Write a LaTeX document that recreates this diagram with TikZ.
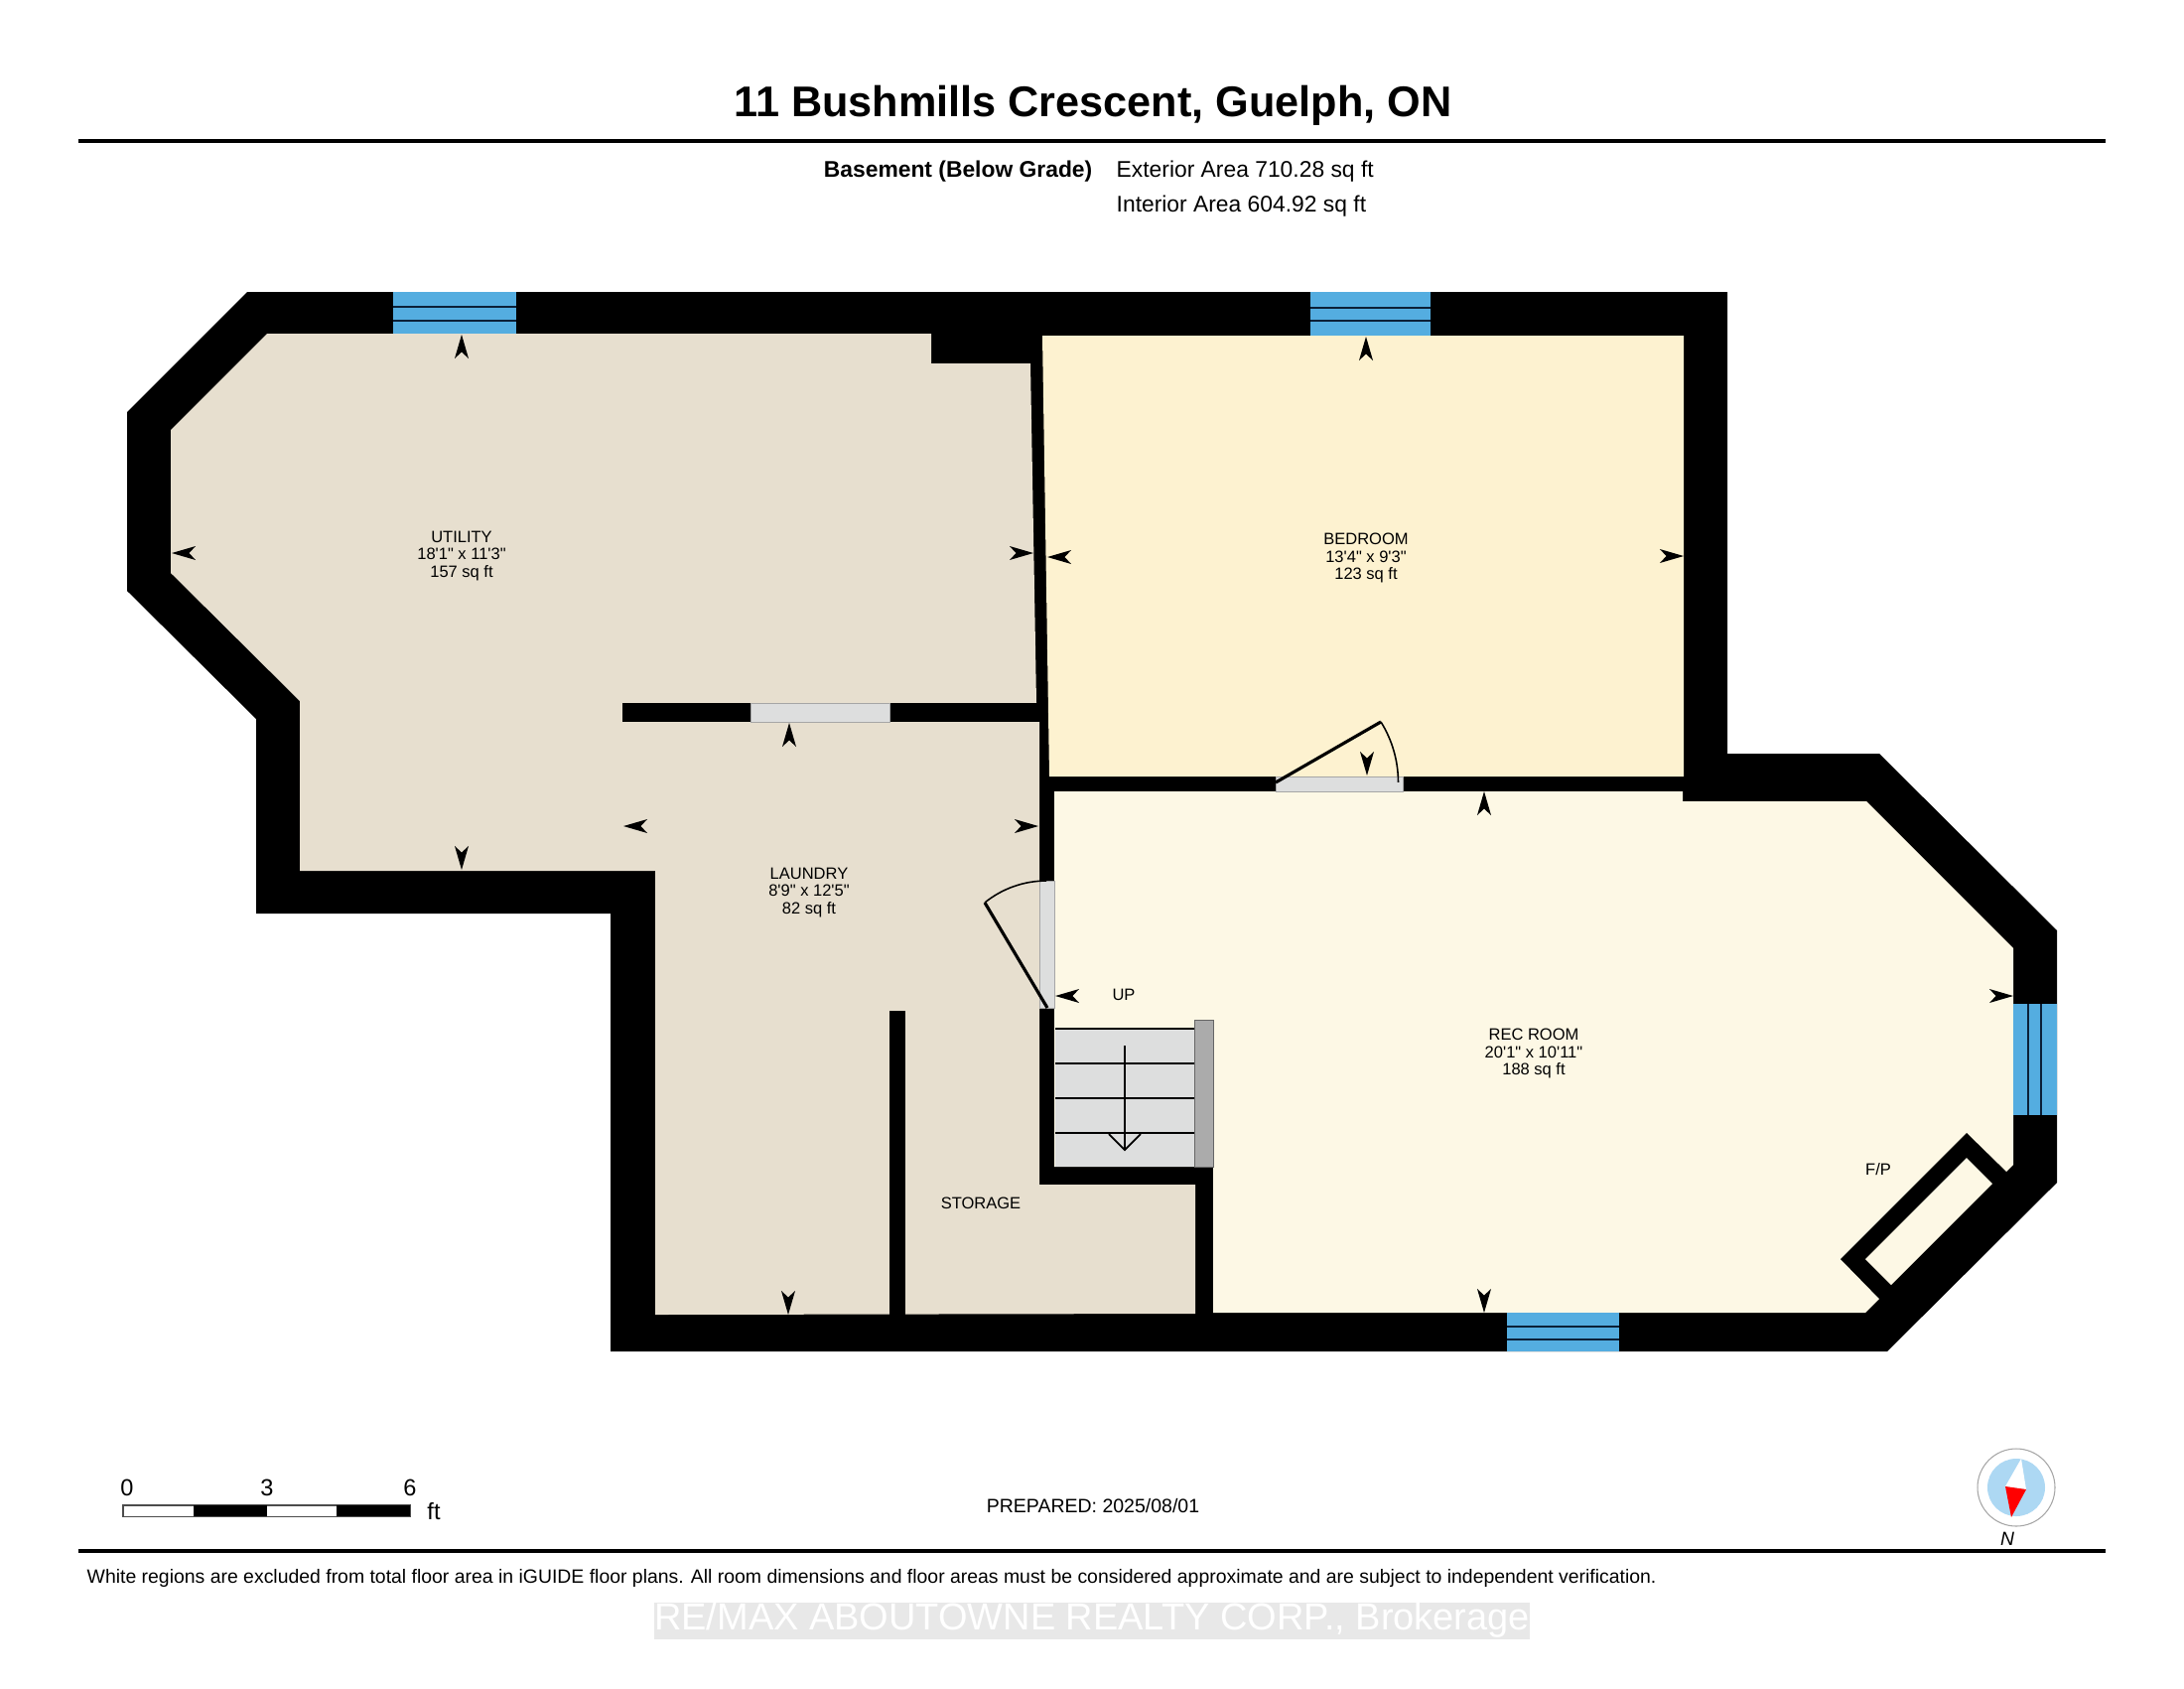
\documentclass[tikz,border=0pt]{standalone}
\usepackage{fontspec}
\newfontfamily\planfont{Liberation Sans}
\definecolor{UtilityTone}{HTML}{E7DFCF}
\definecolor{BedroomTone}{HTML}{FDF2D0}
\definecolor{RecTone}{HTML}{FDF8E5}
\definecolor{GlassBlue}{HTML}{54ADE0}
\definecolor{GlassLine}{HTML}{0B2038}
\definecolor{DoorGrey}{HTML}{DDDEDE}
\definecolor{RailGrey}{HTML}{ABABAB}
\definecolor{CompassBlue}{HTML}{ADD8F3}
\tikzset{
  roomlabel/.style={font=\planfont\fontsize{4.7}{5.1}\selectfont, align=center, inner sep=0pt},
  notelabel/.style={font=\planfont\fontsize{5.55}{6}\selectfont, inner sep=0pt},
  headlabel/.style={font=\planfont\fontsize{6.5}{7}\selectfont, inner sep=0pt},
  scalelabel/.style={font=\planfont\fontsize{6.7}{7}\selectfont, inner sep=0pt},
  doorfill/.style={fill=DoorGrey, draw=gray!70, line width=0.2pt},
  leaf/.style={line width=0.9pt},
  swing/.style={line width=0.45pt},
  tread/.style={line width=0.5pt},
  glassline/.style={GlassLine, line width=0.4pt},
  dimtip/.pic={\fill (0,0) -- (-2.4,-0.7) -- (-1.75,0) -- (-2.4,0.7) -- cycle;}
}
\begin{document}
\begin{tikzpicture}[x=1mm, y=-1mm]
  \useasboundingbox (0,0) rectangle (220,170);
  \fill[white] (0,0) rectangle (220,170);
  % Header
  \node[font=\planfont\bfseries\fontsize{12.3}{14}\selectfont, inner sep=0pt] (title) at (110.1,10.6) {11 Bushmills Crescent, Guelph, ON};
  \draw[line width=1.1pt] (7.9,14.2) -- (212.1,14.2);
  \node[headlabel, font=\planfont\bfseries\fontsize{6.5}{7}\selectfont, anchor=east] (level) at (110.1,17.3) {Basement (Below Grade)};
  \node[headlabel, anchor=west] (exterior) at (112.4,17.3) {Exterior Area 710.28 sq ft};
  \node[headlabel, anchor=west] (interior) at (112.4,20.8) {Interior Area 604.92 sq ft};
  % Outer walls
  \fill (24.9,29.4) -- (174,29.4) -- (174,75.9) -- (189.3,75.9) -- (207.2,93.7) -- (207.2,119.1) -- (190.1,136.1) -- (61.5,136.1) -- (61.5,92) -- (25.8,92) -- (25.8,72.4) -- (12.8,59.5) -- (12.8,41.5) -- cycle;
  % Room floors
  \fill[UtilityTone] (26.9,33.6) -- (93.8,33.6) -- (93.8,36.6) -- (103.8,36.6) -- (104.4,70.8) -- (104.7,72.7) -- (104.7,119.3) -- (120.4,119.3) -- (120.4,132.3) -- (66,132.4) -- (66,87.7) -- (30.2,87.7) -- (30.2,70.6) -- (17.2,57.7) -- (17.2,43.3) -- cycle;
  \fill[BedroomTone] (105,33.8) -- (169.6,33.8) -- (169.6,78.2) -- (105.7,78.2) -- cycle;
  \fill[RecTone] (106.2,79.7) -- (169.5,79.7) -- (169.5,80.7) -- (188,80.7) -- (202.8,95.5) -- (202.8,117.3) -- (187.9,132.2) -- (122.2,132.2) -- (122.2,117.5) -- (106.2,117.5) -- cycle;
  % Inner walls
  \fill (62.7,70.8) rectangle (104.7,72.7);
  \fill (89.6,101.8) rectangle (91.2,132.6);
  % Fireplace
  \fill (198.1,114.1) -- (202.3,118.2) -- (189.5,131) -- (185.4,126.8) -- cycle;
  \fill[RecTone] (198.1,116.6) -- (200.7,119.2) -- (190.5,129.4) -- (187.9,126.8) -- cycle;
  \node[roomlabel] (fp) at (189.2,117.8) {F/P};
  % Windows
  \fill[GlassBlue] (39.6,29.4) rectangle (52,33.6);
  \draw[glassline] (39.6,30.9) -- (52,30.9) (39.6,32.3) -- (52,32.3);
  \fill[GlassBlue] (132,29.4) rectangle (144.1,33.8);
  \draw[glassline] (132,31) -- (144.1,31) (132,32.3) -- (144.1,32.3);
  \fill[GlassBlue] (151.8,132.2) rectangle (163.1,136.1);
  \draw[glassline] (151.8,133.6) -- (163.1,133.6) (151.8,134.9) -- (163.1,134.9);
  \fill[GlassBlue] (202.8,101.1) rectangle (207.2,112.3);
  \draw[glassline] (204.3,101.1) -- (204.3,112.3) (205.6,101.1) -- (205.6,112.3);
  % Doors
  \fill[doorfill] (75.6,70.8) rectangle (89.6,72.7);
  \fill[doorfill] (128.5,78.2) rectangle (141.3,79.7);
  \fill[doorfill] (104.7,88.7) rectangle (106.2,101.5);
  \draw[leaf] (128.5,78.8) -- (139.1,72.7);
  \draw[swing] (139.1,72.7) arc[start angle=-32, end angle=0, radius=11.5];
  \draw[leaf] (105.5,101.5) -- (99.2,90.9);
  \draw[swing] (99.2,90.9) arc[start angle=231, end angle=270, radius=9.85];
  % Stairs
  \fill[DoorGrey] (106.3,103.6) rectangle (120.3,117.5);
  \foreach \treadY in {103.6,107.1,110.6,114.1}
    \draw[tread] (106.3,\treadY) -- (120.3,\treadY);
  \draw[tread] (113.3,105.3) -- (113.3,115.8);
  \draw[tread] (111.7,114.2) -- (113.3,115.8) -- (114.9,114.2);
  \fill[RailGrey, draw=black!60, line width=0.2pt] (120.3,102.7) rectangle (122.2,117.5);
  \node[roomlabel] (up) at (113.2,100.2) {UP};
  % Room names
  \node[roomlabel] (utility) at (46.5,56) {UTILITY\\18'1" x 11'3"\\157 sq ft};
  \node[roomlabel] (bedroom) at (137.6,56.2) {BEDROOM\\13'4" x 9'3"\\123 sq ft};
  \node[roomlabel] (laundry) at (81.5,89.9) {LAUNDRY\\8'9" x 12'5"\\82 sq ft};
  \node[roomlabel] (recroom) at (154.5,106.1) {REC ROOM\\20'1" x 10'11"\\188 sq ft};
  \node[roomlabel] (storage) at (98.8,121.2) {STORAGE};
  % Dimension tips
  \foreach \tipX/\tipY/\tipA in {46.5/33.7/90, 17.3/55.7/180, 104.1/55.7/0, 46.5/87.6/270,
      105.5/56.1/180, 137.6/33.9/90, 169.6/56/0, 137.7/78.1/270,
      79.5/72.8/90, 62.8/83.2/180, 104.6/83.2/0, 79.4/132.4/270,
      149.5/79.7/90, 106.3/100.3/180, 202.8/100.3/0, 149.5/132.2/270}
    \pic[rotate=\tipA] at (\tipX,\tipY) {dimtip};
  % Scale bar
  \draw[line width=0.3pt, draw=black!70, fill=white] (12.4,151.6) rectangle (41.3,152.7);
  \fill (19.5,151.6) rectangle (26.9,152.7);
  \fill (33.9,151.6) rectangle (41.3,152.7);
  \node[scalelabel] (zero) at (12.8,149.8) {0};
  \node[scalelabel] (three) at (26.9,149.8) {3};
  \node[scalelabel] (six) at (41.3,149.8) {6};
  \node[scalelabel] (feet) at (43.7,152.2) {ft};
  \node[notelabel] (prepared) at (110.1,151.7) {PREPARED: 2025/08/01};
  % Compass
  \draw[line width=0.3pt, draw=gray!70, fill=white] (203.1,149.8) circle (3.9);
  \fill[CompassBlue] (203.1,149.8) circle (2.9);
  \fill[white] (203.6,146.9) -- (202,149.7) -- (204.1,150) -- cycle;
  \fill[red] (202,149.7) -- (204.1,150) -- (202.6,152.8) -- cycle;
  \node[font=\planfont\itshape\fontsize{5.5}{6}\selectfont, inner sep=0pt] (north) at (202.2,155) {N};
  % Footer
  \draw[line width=1.1pt] (7.9,156.2) -- (212.1,156.2);
  \node[notelabel, font=\planfont\fontsize{5.525}{6}\selectfont, anchor=west] (disclaimer) at (8.7,158.9) {White regions are excluded from total floor area in iGUIDE floor plans. All room dimensions and floor areas must be considered approximate and are subject to independent verification.};
  \node[font=\planfont\fontsize{10.8}{12}\selectfont, text=white, fill=black!9, inner sep=0pt, minimum width=87.8mm, minimum height=3.7mm] (brokerage) at (110,163.2) {RE/MAX ABOUTOWNE REALTY CORP., Brokerage};
\end{tikzpicture}
\end{document}
